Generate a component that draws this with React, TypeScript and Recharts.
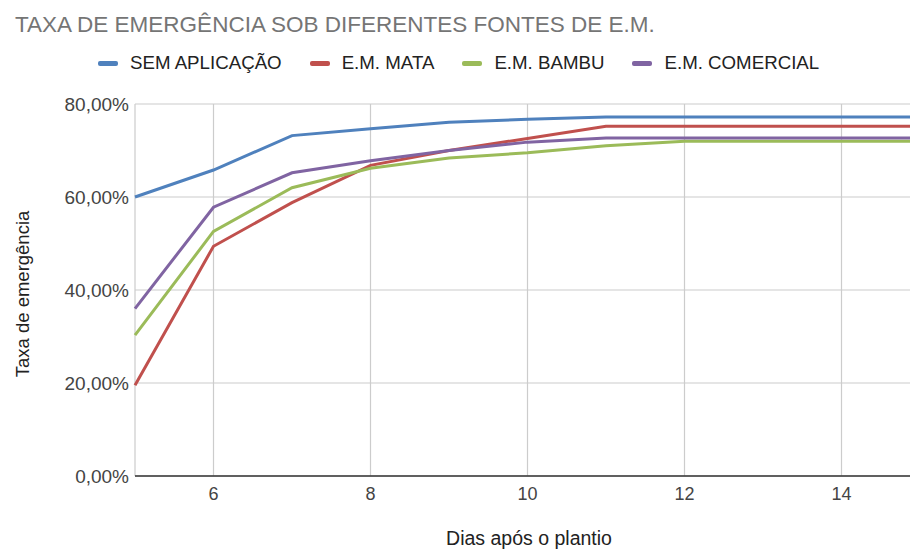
import React from 'react';
import { LineChart, Line, XAxis, YAxis, CartesianGrid } from 'recharts';

const dias = [5, 6, 7, 8, 9, 10, 11, 12, 13, 14, 15];
const semAplicacao = [60.0, 65.8, 73.2, 74.7, 76.1, 76.7, 77.2, 77.2, 77.2, 77.2, 77.2];
const emMata = [19.5, 49.4, 58.8, 66.8, 70.0, 72.6, 75.2, 75.2, 75.2, 75.2, 75.2];
const emBambu = [30.3, 52.6, 62.0, 66.2, 68.4, 69.5, 71.0, 72.0, 72.0, 72.0, 72.0];
const emComercial = [36.0, 57.8, 65.2, 67.8, 70.0, 71.8, 72.7, 72.7, 72.7, 72.7, 72.7];
const yTicks = [0, 20, 40, 60, 80];
const xTicks = [6, 8, 10, 12, 14];

const seriesNames = ['SEM APLICAÇÃO', 'E.M. MATA', 'E.M. BAMBU', 'E.M. COMERCIAL'];
const seriesColors = ['#4F81BD', '#C0504D', '#9BBB59', '#8064A2'];
const seriesKeys = ['sem', 'mata', 'bambu', 'comercial'];

const data = dias.map((d, i) => ({
  dia: d,
  sem: semAplicacao[i],
  mata: emMata[i],
  bambu: emBambu[i],
  comercial: emComercial[i],
}));

const FONT = '"Liberation Sans", Arial, Helvetica, sans-serif';

export default function App() {
  return (
    <div style={{ position: 'fixed', left: 0, top: 0, width: 910, height: 553, overflow: 'hidden', background: '#fff' }}>
      <div
        style={{
          position: 'absolute',
          left: 98,
          top: 52,
          height: 22,
          display: 'flex',
          alignItems: 'center',
          fontFamily: FONT,
          fontSize: 18.7,
          color: '#222',
          whiteSpace: 'nowrap',
          zIndex: 2,
        }}
      >
        {seriesNames.map((n, i) => (
          <div key={n} style={{ display: 'flex', alignItems: 'center', marginRight: 28 }}>
            <span style={{ display: 'inline-block', width: 20, height: 5, borderRadius: 2, background: seriesColors[i], marginRight: 12 }} />
            <span>{n}</span>
          </div>
        ))}
      </div>
      <LineChart width={930} height={553} data={data} margin={{ top: 104, right: 10, left: 0, bottom: 0 }}>
        <text x={15} y={32} fontFamily={FONT} fontSize={22.5} fill="#757575">TAXA DE EMERGÊNCIA SOB DIFERENTES FONTES DE E.M.</text>
        <CartesianGrid stroke="#cccccc" strokeWidth={1.2} />
        <XAxis
          dataKey="dia"
          type="number"
          domain={[5, 15]}
          ticks={xTicks}
          tickLine={false}
          axisLine={{ stroke: '#333', strokeWidth: 1.6 }}
          tick={{ fontFamily: FONT, fontSize: 18, fill: '#444' }}
          tickMargin={5}
          height={77}
          label={{
            content: () => (
              <text x={529} y={545} textAnchor="middle" fontFamily={FONT} fontSize={19.5} fill="#222">Dias após o plantio</text>
            ),
          }}
        />
        <YAxis
          type="number"
          domain={[0, 80]}
          ticks={yTicks}
          width={135}
          tickLine={false}
          axisLine={false}
          tickMargin={0}
          tick={{ fontFamily: FONT, fontSize: 19, fill: '#444' }}
          tickFormatter={(v: number) => v.toFixed(2).replace('.', ',') + '%'}
          label={{
            content: () => (
              <text x={29} y={294} textAnchor="middle" transform="rotate(-90 29 294)" fontFamily={FONT} fontSize={18.5} fill="#222">Taxa de emergência</text>
            ),
          }}
        />
        {seriesKeys.map((k, i) => (
          <Line
            key={k}
            type="linear"
            dataKey={k}
            name={seriesNames[i]}
            stroke={seriesColors[i]}
            strokeWidth={3}
            dot={false}
            activeDot={false}
            isAnimationActive={false}
          />
        ))}
      </LineChart>
    </div>
  );
}
